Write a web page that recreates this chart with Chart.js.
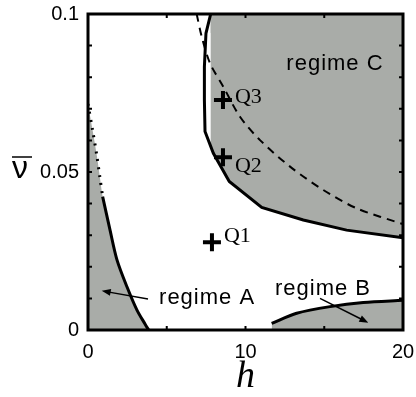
<!DOCTYPE html>
<html lang="en">
<head>
  <meta charset="UTF-8">
  <title>regime map</title>
  <script src="https://cdn.jsdelivr.net/npm/chart.js"></script>
  <style>
    html, body { margin: 0; padding: 0; background: #fff; }
  </style>
</head>
<body>
  <canvas id="regimeChart" width="416" height="397"></canvas>

  <script>
    // boundary of regime A (left), first points are the dotted part
    const regimeAX = [0, 0.3, 0.55, 0.75, 0.93, 1.4, 1.84, 2.48, 3.11, 3.62, 3.85];
    const regimeAY = [0.0715, 0.063, 0.0555, 0.0485, 0.0422, 0.0316, 0.0222, 0.0136, 0.0063, 0.0019, 0];
    const dottedPoints = 5;

    // boundary of regime B (bottom right)
    const regimeBX = [11.66, 13.25, 15.37, 17.48, 20];
    const regimeBY = [0.0021, 0.0053, 0.0074, 0.0087, 0.0094];

    // boundary of regime C (upper right)
    const regimeCX = [7.79, 7.49, 7.39, 7.39, 7.43, 7.96, 8.97, 11.03, 13.67, 16.42, 20];
    const regimeCY = [0.1, 0.0939, 0.0833, 0.0728, 0.0628, 0.0559, 0.047, 0.0388, 0.0348, 0.0316, 0.0292];

    // dashed curve
    const dashedX = [6.9, 7.22, 7.75, 8.59, 9.65, 10.92, 12.83, 14.94, 17.06, 20];
    const dashedY = [0.1, 0.0928, 0.0844, 0.077, 0.0675, 0.0601, 0.0517, 0.0443, 0.0385, 0.0335];

    // marked points
    const qNames = ["Q1", "Q2", "Q3"];
    const qX = [7.87, 8.57, 8.57];
    const qY = [0.0278, 0.0547, 0.0728];

    // region labels (centre x, baseline y) and arrows
    const regimeNames = ["regime A", "regime B", "regime C"];
    const regimeLabelX = [7.56, 14.92, 15.68];
    const regimeLabelY = [0.0082, 0.0111, 0.0823];
    const arrowFromX = [3.81, 14.73];
    const arrowFromY = [0.0098, 0.0100];
    const arrowToX = [0.87, 17.8];
    const arrowToY = [0.0124, 0.0023];

    const xTicksShown = [0, 10, 20];
    const yTicksShown = { 0: "0", 5: "0.05", 10: "0.1" };

    const gray = "#a9aca8";
    const pts = (xs, ys) => xs.map((x, i) => ({ x: x, y: ys[i] }));
    const allA = pts(regimeAX, regimeAY);

    const overlay = {
      id: "overlay",
      afterDatasetsDraw(chart) {
        const ctx = chart.ctx;
        const xs = chart.scales.x, ys = chart.scales.y;
        const a = chart.chartArea;
        ctx.save();
        ctx.fillStyle = "#000";
        ctx.strokeStyle = "#000";

        // arrows
        ctx.lineWidth = 1.5;
        arrowFromX.forEach((fx, i) => {
          const x0 = xs.getPixelForValue(fx), y0 = ys.getPixelForValue(arrowFromY[i]);
          const x1 = xs.getPixelForValue(arrowToX[i]), y1 = ys.getPixelForValue(arrowToY[i]);
          const ang = Math.atan2(y1 - y0, x1 - x0);
          ctx.beginPath();
          ctx.moveTo(x0, y0);
          ctx.lineTo(x1 - 6 * Math.cos(ang), y1 - 6 * Math.sin(ang));
          ctx.stroke();
          ctx.beginPath();
          ctx.moveTo(x1, y1);
          ctx.lineTo(x1 - 9 * Math.cos(ang) + 3.5 * Math.sin(ang), y1 - 9 * Math.sin(ang) - 3.5 * Math.cos(ang));
          ctx.lineTo(x1 - 9 * Math.cos(ang) - 3.5 * Math.sin(ang), y1 - 9 * Math.sin(ang) + 3.5 * Math.cos(ang));
          ctx.closePath();
          ctx.fill();
        });

        // regime labels
        ctx.font = "22px 'Liberation Sans', Arial, sans-serif";
        ctx.letterSpacing = "1px";
        ctx.textAlign = "center";
        ctx.textBaseline = "alphabetic";
        regimeNames.forEach((name, i) => {
          ctx.fillText(name, xs.getPixelForValue(regimeLabelX[i]), ys.getPixelForValue(regimeLabelY[i]));
        });
        ctx.letterSpacing = "0px";

        // Q labels
        ctx.font = "22px 'Liberation Serif', 'Times New Roman', serif";
        ctx.textAlign = "left";
        const dy = [0, 15, 3];
        qNames.forEach((name, i) => {
          const px = xs.getPixelForValue(qX[i]), py = ys.getPixelForValue(qY[i]);
          ctx.fillText(name, px + 12, py + dy[i]);
        });

        // frame and inward ticks
        ctx.lineWidth = 3;
        ctx.strokeRect(a.left, a.top, a.right - a.left, a.bottom - a.top);
        ctx.lineWidth = 2;
        ctx.beginPath();
        xs.ticks.forEach(t => {
          const p = xs.getPixelForValue(t.value);
          ctx.moveTo(p, a.bottom); ctx.lineTo(p, a.bottom - 4);
          ctx.moveTo(p, a.top); ctx.lineTo(p, a.top + 4);
        });
        ys.ticks.forEach(t => {
          const p = ys.getPixelForValue(t.value);
          ctx.moveTo(a.left, p); ctx.lineTo(a.left + 4, p);
          ctx.moveTo(a.right, p); ctx.lineTo(a.right - 4, p);
        });
        ctx.stroke();

        // y axis label: nu with overbar
        ctx.font = "32px 'Liberation Sans', Arial, sans-serif";
        ctx.textAlign = "left";
        ctx.fillText("ν", 12, 178);
        ctx.lineWidth = 1.5;
        ctx.beginPath();
        ctx.moveTo(12, 157); ctx.lineTo(32, 157);
        ctx.stroke();
        ctx.restore();
      }
    };

    const line = { showLine: true, fill: false, borderColor: "#000", pointRadius: 0 };

    new Chart(document.getElementById("regimeChart").getContext("2d"), {
      type: "scatter",
      data: {
        datasets: [
          // gray regions
          { ...line, data: pts(regimeCX, regimeCY), fill: "end", backgroundColor: gray, borderWidth: 3, tension: 0, order: 3 },
          { ...line, data: allA, fill: "start", backgroundColor: gray, borderWidth: 0, tension: 0.3, order: 4 },
          { ...line, data: pts(regimeBX, regimeBY), fill: "start", backgroundColor: gray, borderWidth: 3, tension: 0.3, order: 3 },
          // regime A boundary: dotted then solid
          { ...line, data: allA.slice(0, dottedPoints), borderWidth: 3, borderDash: [2, 6], tension: 0.3, order: 2 },
          { ...line, data: allA.slice(dottedPoints - 1), borderWidth: 3, tension: 0.3, order: 2 },
          // dashed curve
          { ...line, data: pts(dashedX, dashedY), borderWidth: 2, borderDash: [8, 6], tension: 0.3, order: 2 },
          // marked points
          {
            data: pts(qX, qY), showLine: false, pointStyle: "cross", pointRadius: 9,
            borderColor: "#000", borderWidth: 4, order: 1
          }
        ]
      },
      options: {
        responsive: false,
        animation: false,
        devicePixelRatio: 1,
        layout: { padding: { top: 14, right: 13, left: 0, bottom: 0 } },
        plugins: { legend: { display: false }, tooltip: { enabled: false } },
        scales: {
          x: {
            type: "linear", min: 0, max: 20,
            grid: { display: false, drawTicks: false },
            border: { display: false },
            ticks: {
              stepSize: 5, autoSkip: false, maxRotation: 0, padding: 10, color: "#000",
              font: { family: "'Liberation Sans', Arial, sans-serif", size: 20 },
              callback: v => xTicksShown.includes(v) ? String(v) : ""
            },
            title: {
              display: true, text: "h", color: "#000",
              font: { family: "'Liberation Serif', 'Times New Roman', serif", style: "italic", size: 38, lineHeight: 1 },
              padding: { top: 0, bottom: 1 }
            },
            afterFit: s => { s.height = 67; s.paddingLeft = 0; s.paddingRight = 0; }
          },
          y: {
            type: "linear", min: 0, max: 0.1,
            grid: { display: false, drawTicks: false },
            border: { display: false },
            ticks: {
              stepSize: 0.01, autoSkip: false, padding: 9, color: "#000",
              font: { family: "'Liberation Sans', Arial, sans-serif", size: 20 },
              callback: v => yTicksShown[Math.round(v * 100)] || ""
            },
            afterFit: s => { s.width = 88; s.paddingTop = 0; s.paddingBottom = 0; }
          }
        }
      },
      plugins: [overlay]
    });
  </script>
</body>
</html>
